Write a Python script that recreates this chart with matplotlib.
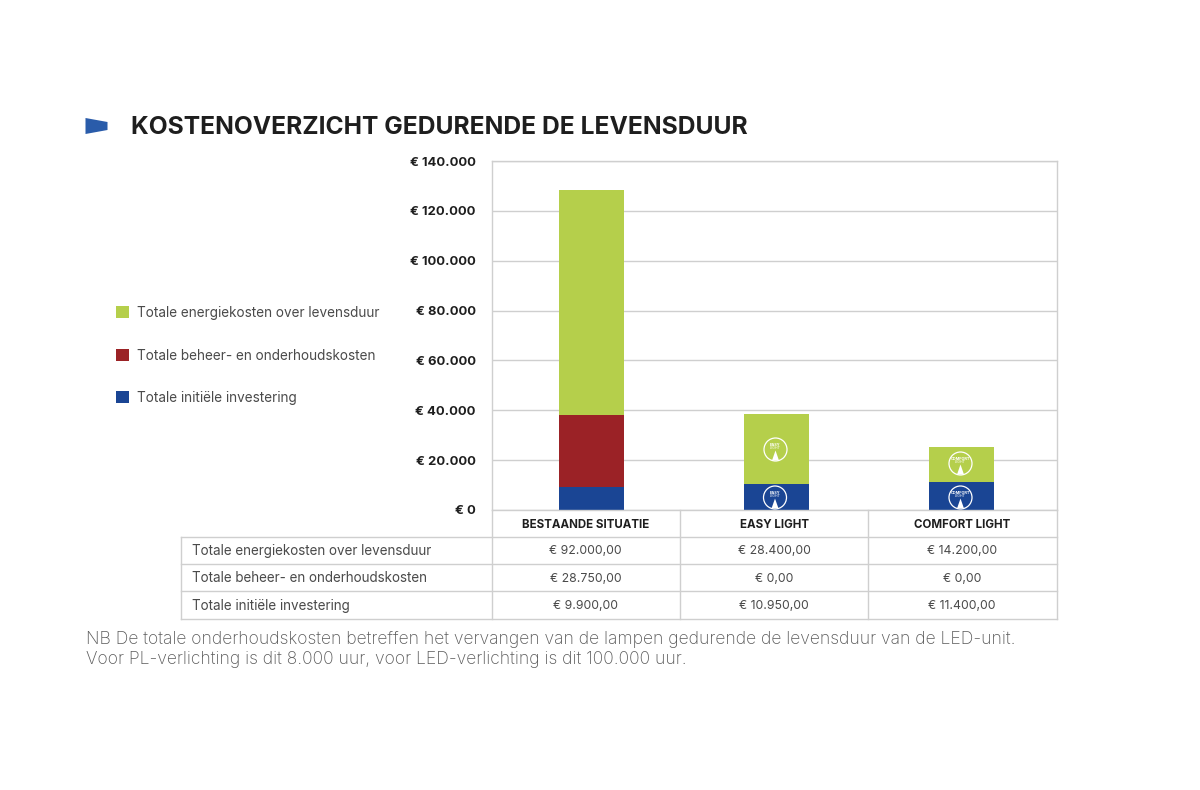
import matplotlib
matplotlib.use("Agg")
import matplotlib.pyplot as plt
from matplotlib.patches import Polygon, Circle, Rectangle

categories = ["BESTAANDE SITUATIE", "EASY LIGHT", "COMFORT LIGHT"]
series_names = ["Totale energiekosten over levensduur",
                "Totale beheer- en onderhoudskosten",
                "Totale initiële investering"]
invest = [9400, 10600, 11300]
maint = [28700, 0, 0]
energy = [90300, 28100, 14000]
table_energy = ["€ 92.000,00", "€ 28.400,00", "€ 14.200,00"]
table_maint = ["€ 28.750,00", "€ 0,00", "€ 0,00"]
table_invest = ["€ 9.900,00", "€ 10.950,00", "€ 11.400,00"]
yticks = [0, 20000, 40000, 60000, 80000, 100000, 120000, 140000]
yticklabels = ["€ 0", "€ 20.000", "€ 40.000", "€ 60.000", "€ 80.000", "€ 100.000", "€ 120.000", "€ 140.000"]
title = "KOSTENOVERZICHT GEDURENDE DE LEVENSDUUR"
note = ["NB De totale onderhoudskosten betreffen het vervangen van de lampen gedurende de levensduur van de LED-unit.",
        "Voor PL-verlichting is dit 8.000 uur, voor LED-verlichting is dit 100.000 uur."]

GREEN, RED, BLUE = "#B5CF4B", "#9B2226", "#1A4594"
GRID = "#CFCFCF"
DARK, MID = "#1E1E1E", "#4A4A4A"
plt.rcParams["font.family"] = ["Inter", "DejaVu Sans"]
W, H = 1200, 790
fig = plt.figure(figsize=(W/100, H/100), dpi=100, facecolor="white")

# chart axes
L, R, T, B = 491.5, 1056.5, 161, 510
ax = fig.add_axes([L/W, 1-B/H, (R-L)/W, (B-T)/H])
x = [0, 1, 2]
ax.set_xlim((L-591)/185, (R-591)/185)
ax.set_ylim(0, 140000)
bw = 65/185
ax.set_axisbelow(True)
ax.yaxis.grid(True, color=GRID, lw=1.0)
ax.bar(x, invest, bw, color=BLUE)
ax.bar(x, maint, bw, bottom=invest, color=RED)
bott = [a+b for a, b in zip(invest, maint)]
ax.bar(x, energy, bw, bottom=bott, color=GREEN)
for s in ax.spines.values():
    s.set_color(GRID); s.set_linewidth(1.0)
ax.set_xticks([])
ax.set_yticks(yticks)
ax.set_yticklabels(yticklabels, fontsize=9.4, fontweight="bold", color=DARK)
ax.tick_params(axis="y", length=0, pad=11.5)

# overlay in pixel coordinates
ov = fig.add_axes([0, 0, 1, 1], facecolor="none")
ov.set_xlim(0, W); ov.set_ylim(H, 0); ov.axis("off")

def badge(cx, cy, top, bottom):
    ov.add_patch(Circle((cx, cy), 11.5, fill=False, ec="white", lw=0.9))
    ov.add_patch(Polygon([[cx-3.5, cy+11], [cx+3.5, cy+11], [cx, cy+1]], fc="white", ec="none"))
    ov.text(cx, cy-5, top, fontsize=2.8, color="white", ha="center", va="center", fontweight="bold")
    ov.text(cx, cy-1.5, bottom, fontsize=2.6, color="white", ha="center", va="center")

badge(775.5, 449.5, "EASY", "LIGHT")
badge(775, 497.5, "EASY", "LIGHT")
badge(960.5, 463.5, "COMFORT", "LIGHT")
badge(960.5, 497.5, "COMFORT", "LIGHT")

# title
ov.add_patch(Polygon([[85.5, 118], [107.5, 122], [107.5, 130], [85.5, 134]], fc="#2A5CAA", ec="none"))
ov.text(131, 127, title, fontsize=17.7, fontweight="bold", color=DARK, ha="left", va="center")

# legend
for yy, name, c in zip([312, 354.5, 397], series_names, [GREEN, RED, BLUE]):
    ov.add_patch(Rectangle((116, yy-6), 13, 12, fc=c, ec="none"))
    ov.text(137, yy+1, name, fontsize=9.75, color=MID, ha="left", va="center")

# table
cols = [181, 491.5, 680, 868, 1056.5]
rows = [510, 537, 564, 591, 618.5]
kw = dict(color=GRID, lw=1.0, solid_capstyle="projecting")
for yy in rows[1:]:
    ov.plot([cols[0], cols[-1]], [yy, yy], **kw)
ov.plot([cols[0], cols[0]], [rows[1], rows[-1]], **kw)
for xx in cols[1:]:
    ov.plot([xx, xx], [rows[0], rows[-1]], **kw)
for i, c in enumerate(categories):
    ov.text((cols[i+1]+cols[i+2])/2, 524.5, c, fontsize=8.3, fontweight="bold", color=DARK, ha="center", va="center")
for j, (name, vals) in enumerate(zip(series_names, [table_energy, table_maint, table_invest])):
    cy = (rows[j+1]+rows[j+2])/2 + 1
    ov.text(192, cy, name, fontsize=9.7, color=MID, ha="left", va="center")
    for i, v in enumerate(vals):
        ov.text((cols[i+1]+cols[i+2])/2, cy, v, fontsize=8.8, color=MID, ha="center", va="center")

# note
ov.text(86, 639.5, note[0], fontsize=12.6, color="#5A5A5A", fontweight="light", ha="left", va="center")
ov.text(86, 659.5, note[1], fontsize=12.6, color="#5A5A5A", fontweight="light", ha="left", va="center")

fig.savefig("out.png", dpi=100)
